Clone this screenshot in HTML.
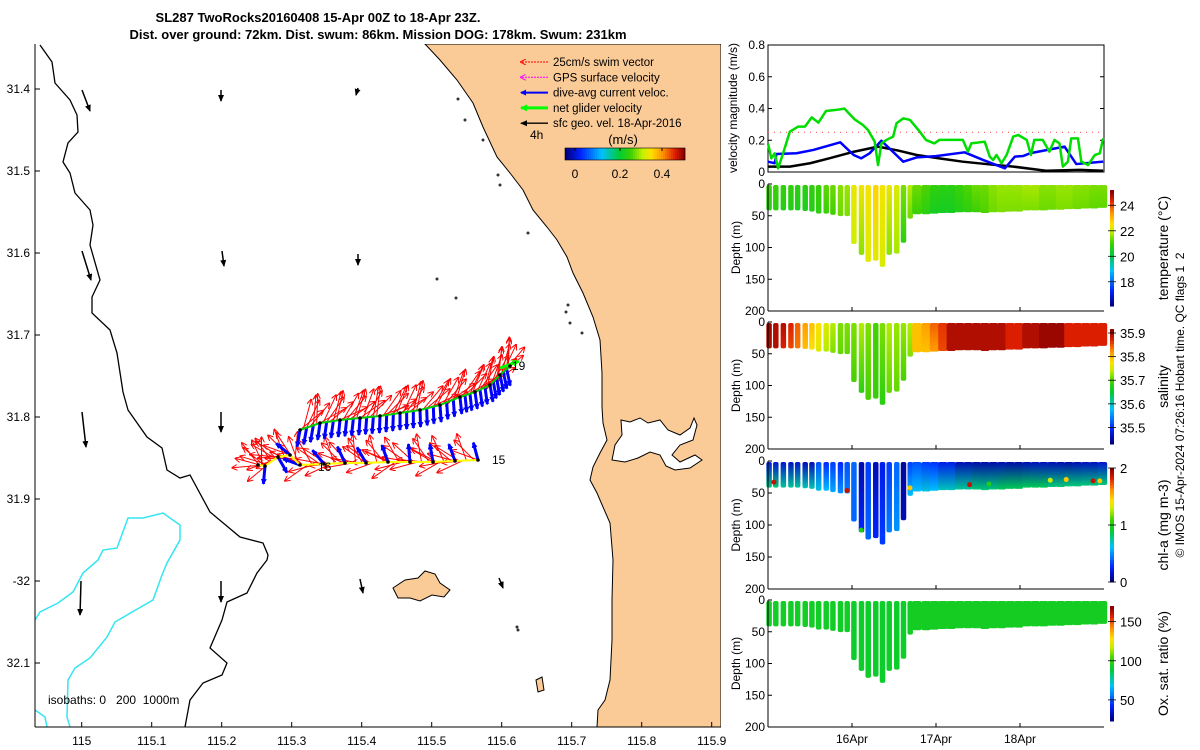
<!DOCTYPE html>
<html><head><meta charset="utf-8"><style>
html,body{margin:0;padding:0;background:#fff;}
svg{display:block;font-family:"Liberation Sans","DejaVu Sans",sans-serif;}
</style></head><body>
<svg id="fig" width="1200" height="750" viewBox="0 0 1200 750" xmlns="http://www.w3.org/2000/svg">
<defs>
<clipPath id="mapclip"><rect x="35" y="44" width="686" height="683"/></clipPath>
<marker id="ahK" markerUnits="userSpaceOnUse" markerWidth="7" markerHeight="7" refX="6" refY="3.5" orient="auto"><path d="M0,0.5 L7,3.5 L0,6.5 Z" fill="#000"/></marker>
<marker id="ahR" markerUnits="userSpaceOnUse" markerWidth="6" markerHeight="6" refX="5" refY="3" orient="auto"><path d="M0,0 L6,3 L0,6" fill="none" stroke="#f00"/></marker>
<marker id="ahB" markerUnits="userSpaceOnUse" markerWidth="6" markerHeight="6" refX="5" refY="3" orient="auto"><path d="M0,0 L6,3 L0,6 Z" fill="#00f"/></marker>
<marker id="ahG" markerUnits="userSpaceOnUse" markerWidth="7" markerHeight="7" refX="6" refY="3.5" orient="auto"><path d="M0,0 L7,3.5 L0,7 Z" fill="#0f0"/></marker>
<marker id="ahM" markerUnits="userSpaceOnUse" markerWidth="6" markerHeight="6" refX="5" refY="3" orient="auto"><path d="M0,0 L6,3 L0,6" fill="none" stroke="#f0f"/></marker>
</defs>
<text x="318" y="22" text-anchor="middle" font-size="13" font-weight="bold">SL287 TwoRocks20160408 15-Apr 00Z to 18-Apr 23Z.</text>
<text x="378" y="39" text-anchor="middle" font-size="13" font-weight="bold">Dist. over ground: 72km. Dist. swum: 86km. Mission DOG: 178km. Swum: 231km</text>
<g id="map"></g>
<g id="right"></g>
<text transform="translate(1184,405) rotate(-90)" text-anchor="middle" font-size="12" style="white-space:pre">© IMOS 15-Apr-2024 07:26:16 Hobart time. QC flags 1  2</text>
</svg>
<script>
const NS="http://www.w3.org/2000/svg";
function el(tag,attrs,parent,txt){const e=document.createElementNS(NS,tag);for(const k in attrs)e.setAttribute(k,attrs[k]);if(txt!==undefined)e.textContent=txt;parent.appendChild(e);return e;}
const CM=[[0,0,0,127],[0.12,0,32,255],[0.3,0,192,255],[0.45,0,204,51],[0.55,64,208,0],[0.65,200,240,0],[0.72,255,224,0],[0.82,255,144,0],[0.92,224,32,0],[1,139,0,0]];
function jet(t){t=Math.max(0,Math.min(1,t));for(let i=1;i<CM.length;i++){if(t<=CM[i][0]){const a=CM[i-1],b=CM[i],f=(t-a[0])/(b[0]-a[0]);return `rgb(${Math.round(a[1]+f*(b[1]-a[1]))},${Math.round(a[2]+f*(b[2]-a[2]))},${Math.round(a[3]+f*(b[3]-a[3]))})`;}}return 'rgb(139,0,0)';}

// ---------------- MAP ----------------
const map=document.getElementById('map');
const lonTicks=[115,115.1,115.2,115.3,115.4,115.5,115.6,115.7,115.8,115.9];
const latTicks=[31.4,31.5,31.6,31.7,31.8,31.9,32,32.1];
const latLabels=['31.4','31.5','31.6','31.7','31.8','31.9','-32','32.1'];
function mx(lon){return 81.7+(lon-115)*700;}
function my(lat){return 89+(lat-31.4)*820;}
const mg=el('g',{'clip-path':'url(#mapclip)'},map);
const land=el('path',{d:"M425,44 L440,60 L457,80 L473,103 L483,127 L497,157 L510,173 L523,190 L533,210 L547,227 L557,240 L567,257 L573,273 L583,293 L593,317 L600,340 L602,373 L602,407 L603,423 L607,440 L600,453 L593,467 L590,480 L597,493 L603,507 L610,523 L613,560 L612,600 L612,640 L610,680 L605,700 L598,710 L597,727 L721,727 L721,44 Z",fill:"#fbcb97",stroke:"#000","stroke-width":1},mg);


const est=el('path',{d:"M621,420 L630,422 L640,418 L648,423 L660,420 L668,430 L680,435 L690,428 L694,418 L697,425 L693,440 L680,445 L672,455 L680,462 L695,455 L702,460 L690,468 L675,470 L666,466 L660,455 L650,452 L638,458 L625,462 L612,460 L615,445 L622,435 Z",fill:"#fff",stroke:"#000","stroke-width":1},mg);


const isl=el('path',{d:"M393,588 L405,580 L418,578 L425,571 L435,574 L440,583 L450,590 L444,597 L432,595 L420,601 L410,598 L398,598 Z",fill:"#fbcb97",stroke:"#000","stroke-width":1},mg);


const isl2=el('path',{d:"M536,680 L542,677 L544,690 L538,692 Z",fill:"#fbcb97",stroke:"#000","stroke-width":1},mg);


[[458,99],[465,120],[483,140],[498,175],[500,185],[528,233],[568,305],[566,312],[582,333],[570,323],[502,583],[517,627],[518,630],[456,298],[437,279]].forEach(p=>{const d=el('circle',{cx:p[0],cy:p[1],r:1.5,fill:'#333'},mg);});
const iso200=el('path',{d:"M40,45 L52,62 L55,83 L70,100 L77,115 L78,132 L68,143 L63,162 L70,173 L75,193 L90,210 L93,225 L90,245 L100,280 L92,297 L92,313 L110,330 L117,353 L123,392 L128,410 L147,437 L162,448 L167,470 L180,478 L190,475 L210,512 L240,537 L263,543 L268,555 L267,560 L257,573 L247,593 L227,602 L222,620 L210,648 L227,663 L222,675 L203,683 L190,700 L185,727",fill:"none",stroke:"#000","stroke-width":1.3},mg);


const iso1000=el('path',{d:"M35,620 L40,612 L58,603 L73,592 L83,573 L98,560 L103,550 L117,548 L128,518 L143,518 L163,513 L180,525 L180,540 L167,563 L162,575 L153,600 L115,622 L107,637 L90,658 L75,668 L68,680 L67,717 L70,727 M35,710 L45,717 L47,727",fill:"none",stroke:"#33e6f0","stroke-width":1.5},mg);


const geo=[[82,90,90,111],[82,251,91,280],[82,412,86,447],[81,581,80,615],[221,90,221,101],[222,251,224,266],[221,412,221,432],[221,581,221,602],[358,88,356,95],[358,254,358,265],[360,579,363,593],[499,578,503,588]];
geo.forEach(a=>{const l=el('line',{x1:a[0],y1:a[1],x2:a[2],y2:a[3],stroke:'#000','stroke-width':1.5,'marker-end':'url(#ahK)'},mg);});
const lowTrack=[[478,460],[455,461],[433,462],[410,462],[388,462],[366,463],[345,463],[324,464],[300,465],[290,455],[278,457],[265,466],[258,465]];
const upTrack=[[300,430],[320,423],[340,420],[360,418],[380,416],[400,413],[420,410],[440,405],[460,397],[475,392],[490,385],[500,375],[510,366]];
const swimAngLow=[200,195,210,190,205,215,200,190,225,200,185,220,230];
const blueAngLow=[-105,-110,-100,-95,-110,-120,-115,-130,-160,-140,60,95,100];
const swimAngUp=[-40,-30,-25,-35,-20,-30,-15,-25,-20,-30,-35,-40,-25];
const track=el('g',{},mg);
function arrow(x,y,ang,len,col,mk,w){const r=ang*Math.PI/180;return el('line',{x1:x,y1:y,x2:x+len*Math.cos(r),y2:y+len*Math.sin(r),stroke:col,'stroke-width':w,'marker-end':mk},track);}
const spread=[0,25,-25,50,-45,12];
for(let i=0;i<lowTrack.length-1;i++){const [x0,y0]=lowTrack[i],[x1,y1]=lowTrack[i+1];
 for(let k=0;k<spread.length;k++){const x=x0+(x1-x0)*k/6,y=y0+(y1-y0)*k/6;const a=arrow(x,y,swimAngLow[i]+spread[k],28,'#f00','url(#ahR)',1);}
 const b=arrow(x0,y0,blueAngLow[i],18,'#00f','url(#ahB)',3);}
for(let i=0;i<upTrack.length-1;i++){const [x0,y0]=upTrack[i],[x1,y1]=upTrack[i+1];
 for(let k=0;k<spread.length;k++){const x=x0+(x1-x0)*k/6,y=y0+(y1-y0)*k/6;const a=arrow(x,y,swimAngUp[i]+spread[k]-60*(k%2),30,'#f00','url(#ahR)',1);}
 for(let k=0;k<3;k++){const x=x0+(x1-x0)*k/3,y=y0+(y1-y0)*k/3;const b=arrow(x,y,100-i*2,17,'#00f','url(#ahB)',3);}}
const tl=el('polyline',{points:lowTrack.map(p=>p.join(',')).join(' '),fill:'none',stroke:'#ff0','stroke-width':2},track);
const tu=el('polyline',{points:upTrack.map(p=>p.join(',')).join(' '),fill:'none',stroke:'#0c0','stroke-width':2},track);
const ng=arrow(500,368,-20,20,'#0f0','url(#ahG)',3);
lowTrack.concat(upTrack).forEach(p=>{const d=el('circle',{cx:p[0],cy:p[1],r:1.8,fill:'#000'},track);});
[['15',492,464],['16',318,471],['19',512,370]].forEach(t=>{const tx=el('text',{x:t[1],y:t[2],'font-size':12},map,t[0]);});
const legItems=[['25cm/s swim vector','#f00','url(#ahR)',1],['GPS surface velocity','#f0f','url(#ahM)',1],['dive-avg current veloc.','#00f','url(#ahB)',2],['net glider velocity','#0f0','url(#ahG)',3],['sfc geo. vel. 18-Apr-2016','#000','url(#ahK)',1.3]];
legItems.forEach((it,i)=>{const y=62+i*15.3;const l=el('line',{x1:548,y1:y,x2:521,y2:y,stroke:it[1],'stroke-width':it[3],'marker-end':it[2],'stroke-dasharray':i<2?'2,1':'none'},map);
 const t=el('text',{x:553,y:y+4,'font-size':11.5},map,it[0]);});
el('text',{x:530,y:139,'font-size':12},map,'4h');
el('text',{x:623,y:144,'font-size':13,'text-anchor':'middle'},map,'(m/s)');
for(let i=0;i<60;i++){const r=el('rect',{x:565+i*2,y:148,width:2.2,height:12,fill:jet(i/59)},map);}
el('rect',{x:565,y:148,width:120,height:12,fill:'none',stroke:'#000','stroke-width':0.6},map);
[['0',575],['0.2',620],['0.4',662]].forEach(t=>{el('line',{x1:t[1],y1:148,x2:t[1],y2:151,stroke:'#000'},map);const tx=el('text',{x:t[1],y:178,'font-size':12,'text-anchor':'middle'},map,t[0]);});
el('text',{x:48,y:704,'font-size':12,style:'white-space:pre'},map,'isobaths: 0   200  1000m');
el('line',{x1:35,y1:44,x2:35,y2:727,stroke:'#000'},map);
el('line',{x1:35,y1:727,x2:721,y2:727,stroke:'#000'},map);
lonTicks.forEach(v=>{const x=mx(v);el('line',{x1:x,y1:727,x2:x,y2:722,stroke:'#000'},map);const t=el('text',{x:x,y:745,'font-size':12,'text-anchor':'middle'},map,String(v));});
latTicks.forEach((v,i)=>{const y=my(v);el('line',{x1:35,y1:y,x2:40,y2:y,stroke:'#000'},map);const t=el('text',{x:30,y:y+4,'font-size':12,'text-anchor':'end'},map,latLabels[i]);});

// ---------------- VELOCITY PANEL ----------------
const R=document.getElementById('right');
const X0=768,X1=1104;
function tx(d){return X0+d*(X1-X0)/4;}
const velTicks=[0,0.2,0.4,0.6,0.8];
const greenDays=[0,.04,.08,.12,.18,.26,.36,.44,.52,.6,.69,.81,.91,1.03,1.13,1.19,1.27,1.31,1.35,1.41,1.49,1.53,1.61,1.69,1.79,1.88,1.98,2.04,2.12,2.32,2.38,2.42,2.58,2.64,2.68,2.72,2.78,2.84,2.92,2.98,3.08,3.13,3.17,3.27,3.35,3.41,3.47,3.51,3.57,3.61,3.69,3.73,3.81,3.89,3.95,3.99];
const greenVals=[.18,.086,.118,.023,.118,.254,.286,.286,.344,.311,.384,.391,.399,.332,.296,.265,.191,.044,.18,.202,.223,.307,.338,.328,.265,.202,.18,.202,.202,.202,.128,.18,.191,.097,.076,.107,.055,.107,.223,.233,.202,.107,.202,.202,.128,.202,.18,.034,.065,.212,.212,.065,.044,.107,.118,.212];
const blueDays=[0,.08,.1,.34,.54,.86,1.02,1.11,1.21,1.35,1.61,1.77,2.0,2.34,2.56,2.82,2.94,3.04,3.12,3.53,3.67,3.99];
const blueVals=[.065,.055,.113,.118,.139,.187,.107,.086,.118,.197,.065,.092,.1,.124,.076,.023,.097,.101,.118,.16,.05,.065];
const blackDays=[0,.26,.5,.73,1.0,1.31,1.55,1.77,2.05,2.32,2.6,2.92,3.31,3.71,3.99];
const blackVals=[.034,.034,.055,.086,.125,.16,.135,.107,.085,.065,.05,.034,.008,.013,.008];
const swimTarget=0.25;
const VY0=172,VY1=45;
function vy(v){return VY0-v*(VY0-VY1)/0.8;}
const vp=el('g',{},R);
el('rect',{x:X0,y:VY1,width:X1-X0,height:VY0-VY1,fill:'none',stroke:'#000'},vp);
velTicks.forEach(v=>{const y=vy(v);el('line',{x1:X0,y1:y,x2:X0+4,y2:y,stroke:'#000'},vp);el('line',{x1:X1,y1:y,x2:X1-4,y2:y,stroke:'#000'},vp);const t=el('text',{x:X0-3,y:y+4,'font-size':12,'text-anchor':'end'},vp,v===0?'0':String(v));});
const refl=el('line',{x1:X0,y1:vy(swimTarget),x2:X1,y2:vy(swimTarget),stroke:'#f55','stroke-width':1.2,'stroke-dasharray':'1,5'},vp);
function line(days,vals,col,w,name){const p=el('polyline',{points:days.map((d,i)=>tx(d)+','+vy(vals[i])).join(' '),fill:'none',stroke:col,'stroke-width':w,'stroke-linejoin':'round'},vp);}
line(blackDays,blackVals,'#000',2.5,'geostrophic-speed-line');
line(blueDays,blueVals,'#00f',2.5,'current-speed-line');
line(greenDays,greenVals,'#0d0',2.5,'glider-speed-line');
el('text',{transform:`translate(737,108) rotate(-90)`,'font-size':12,'text-anchor':'middle'},vp,'velocity magnitude (m/s)');

// ---------------- SECTION PANELS ----------------
const profDays=[.01,.09,.18,.27,.35,.44,.52,.6,.69,.77,.86,.94,1.02,1.11,1.19,1.28,1.36,1.44,1.53,1.61,1.69];
const profDepth=[40,40,40,40,40,41,42,45,45,47,49,49,93,110,121,119,129,110,108,91,53];
const contDays=[1.74,1.85,1.95,2.05,2.15,2.25,2.35,2.45,2.55,2.65,2.75,2.85,2.95,3.05,3.15,3.25,3.35,3.45,3.55,3.65,3.75,3.85,3.95];
const contDepth=[46,46,45,44,44,43,43,43,44,43,43,42,42,40,40,40,39,39,38,38,37,37,36];
const tempTop=[21.0,21.0,20.9,20.9,20.8,20.8,20.9,21.0,21.3,21.4,21.6,21.7,22.4,22.5,22.5,22.8,22.5,22.4,22.2,21.5,21.9, 21.4,21.2,20.9,20.8,20.8,21.0,21.2,21.4,21.4,21.6,21.7,21.7,21.7,21.8,21.8,21.6,21.6,21.7,21.7,21.6,21.6,21.5,21.5];
const tempBot=[20.8,20.8,20.7,20.7,20.6,20.6,20.7,20.8,21.0,21.1,21.4,21.5,22.1,21.6,22.3,22.3,22.2,21.6,21.8,20.8,21.4, 21.0,20.8,20.5,20.5,20.5,20.7,20.8,21.0,21.2,21.4,21.5,21.5,21.5,21.5,21.5,21.4,21.4,21.5,21.5,21.4,21.4,21.3,21.3];
const salTop=[35.91,35.9,35.9,35.88,35.85,35.82,35.8,35.78,35.76,35.74,35.72,35.72,35.72,35.74,35.72,35.7,35.72,35.74,35.73,35.73,35.74, 35.8,35.82,35.85,35.87,35.9,35.9,35.9,35.9,35.9,35.9,35.9,35.88,35.88,35.9,35.9,35.91,35.91,35.91,35.88,35.88,35.88,35.88,35.88];
const salBot=[35.9,35.9,35.88,35.86,35.84,35.8,35.78,35.76,35.74,35.72,35.71,35.71,35.7,35.68,35.7,35.69,35.68,35.71,35.71,35.7,35.72, 35.8,35.8,35.82,35.86,35.9,35.9,35.9,35.9,35.9,35.9,35.9,35.88,35.88,35.9,35.9,35.91,35.91,35.91,35.88,35.88,35.88,35.88,35.88];
const chlTop=[0.2,0.15,0.15,0.12,0.15,0.1,0.1,0.35,0.25,0.3,0.25,0.35,0.4,0.08,0.3,0.1,0.2,0.3,0.4,0.05,0.3, 0.35,0.3,0.28,0.2,0.2,0.1,0.1,0.08,0.08,0.08,0.1,0.08,0.08,0.1,0.12,0.12,0.1,0.1,0.08,0.1,0.12,0.12,0.15];
const chlBot=[0.8,0.8,0.75,0.75,0.75,0.7,0.7,0.65,0.6,0.55,0.5,0.45,0.4,0.25,0.4,0.25,0.3,0.45,0.5,0.1,0.6, 0.6,0.65,0.6,0.7,0.7,0.75,0.75,0.8,0.8,0.8,0.85,0.85,0.85,0.85,0.85,0.85,0.8,0.8,0.8,0.8,0.8,0.8,0.8];
const oxyVals=[93,93,93,93,93,93,93,93,93,93,93,93,92,92,92,92,92,92,92,92,93, 94,94,94,94,94,94,94,94,94,94,94,94,94,94,94,94,94,94,94,94,94,94,94];
const panels=[
 {name:'temperature',top:184,bot:311,vmin:16.1,vmax:25.2,ticks:[18,20,22,24],labels:['18','20','22','24'],cb:[190,306],title:'temperature (°C)',ta:tempTop,tb:tempBot},
 {name:'salinity',top:322,bot:449,vmin:35.43,vmax:35.917,ticks:[35.5,35.6,35.7,35.8,35.9],labels:['35.5','35.6','35.7','35.8','35.9'],cb:[329,444],title:'salinity',ta:salTop,tb:salBot},
 {name:'chlorophyll',top:461,bot:589,vmin:0,vmax:2,ticks:[0,1,2],labels:['0','1','2'],cb:[468,582],title:'chl-a (mg m-3)',ta:chlTop,tb:chlBot},
 {name:'oxygen',top:600,bot:727,vmin:23,vmax:170,ticks:[50,100,150],labels:['50','100','150'],cb:[606,721],title:'Ox. sat. ratio (%)',ta:oxyVals,tb:oxyVals}
];
const depthTicks=[0,50,100,150,200];
const dayTicks=[1,2,3];const dayLabels=['16Apr','17Apr','18Apr'];
let gid=0;
panels.forEach(P=>{
 const g=el('g',{},R);
 const dy=d=>P.top+d*(P.bot-P.top)/200;
 const norm=v=>(v-P.vmin)/(P.vmax-P.vmin);
 const defs=document.querySelector('defs');
 function col(x,w,depth,a,b){const id='g'+(gid++);const lg=el('linearGradient',{id:id,x1:0,y1:0,x2:0,y2:1},defs);el('stop',{offset:'0','stop-color':jet(norm(a))},lg);el('stop',{offset:'1','stop-color':jet(norm(b))},lg);
  const r=el('rect',{x:x,y:P.top+1,width:w,height:dy(depth)-P.top,rx:2,fill:`url(#${id})`},g);}
 profDays.forEach((d,i)=>col(tx(d)-2.5,5.5,profDepth[i],P.ta[i],P.tb[i]));
 contDays.forEach((d,i)=>col(tx(d)-2,tx(0.1)-tx(0)+1,contDepth[i],P.ta[21+i],P.tb[21+i]));
 el('line',{x1:X0,y1:P.top,x2:X0,y2:P.bot,stroke:'#000'},g);
 el('line',{x1:X0,y1:P.bot,x2:X1,y2:P.bot,stroke:'#000'},g);
 depthTicks.forEach(v=>{const y=dy(v);el('line',{x1:X0,y1:y,x2:X0+4,y2:y,stroke:'#000'},g);const t=el('text',{x:X0-3,y:y+4,'font-size':12,'text-anchor':'end'},g,String(v));});
 dayTicks.forEach(d=>{el('line',{x1:tx(d),y1:P.bot,x2:tx(d),y2:P.bot-4,stroke:'#000'},g);});
 el('text',{transform:`translate(740,${(P.top+P.bot)/2}) rotate(-90)`,'font-size':12,'text-anchor':'middle'},g,'Depth (m)');
 const [c0,c1]=P.cb;const n=40;
 for(let i=0;i<n;i++){const r=el('rect',{x:1110,y:c1-(i+1)*(c1-c0)/n,width:4,height:(c1-c0)/n+0.5,fill:jet(i/(n-1))},g);}
 P.ticks.forEach((v,i)=>{const y=c1-(v-P.vmin)/(P.vmax-P.vmin)*(c1-c0);el('line',{x1:1108,y1:y,x2:1116,y2:y,stroke:'#000','stroke-width':0.8},g);const t=el('text',{x:1120,y:y+5,'font-size':13},g,P.labels[i]);});
 el('text',{transform:`translate(1168,${(c0+c1)/2}) rotate(-90)`,'font-size':14,'text-anchor':'middle'},g,P.title);
});
const chlSpots=[[0.07,33,1.9],[0.94,46,1.9],[1.11,108,1],[1.69,42,1.5],[2.4,37,1.9],[2.63,36,1.0],[3.36,30,1.3],[3.55,29,1.5],[3.87,31,1.9],[3.95,31,1.5]];
chlSpots.forEach(s=>{const c=el('circle',{cx:tx(s[0]),cy:461+s[1]*128/200,r:2.5,fill:jet(s[2]/2)},R);});
dayTicks.forEach((d,i)=>{const t=el('text',{x:tx(d),y:743,'font-size':12,'text-anchor':'middle'},R,dayLabels[i]);});
</script>
</body></html>
